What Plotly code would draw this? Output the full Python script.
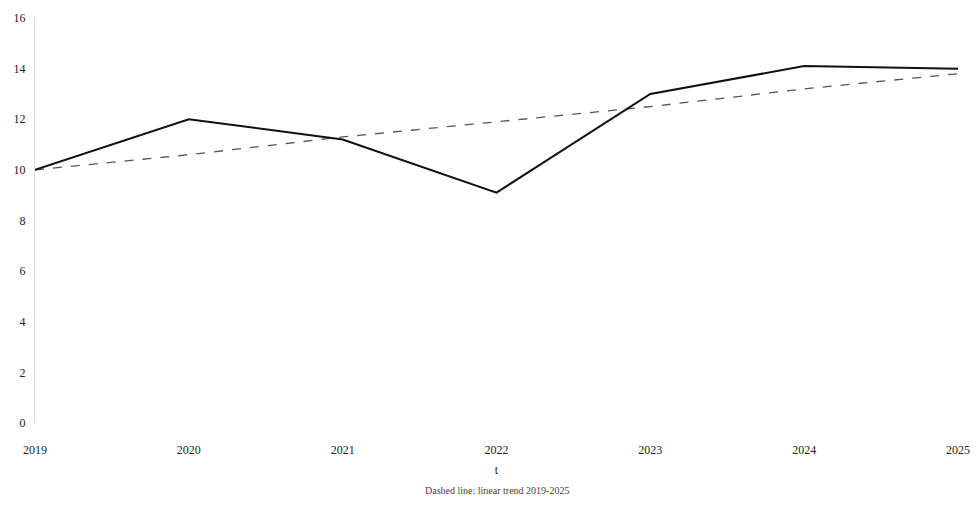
"""Line chart: yearly values with a linear trend line."""

import plotly.graph_objects as go

YEARS = [2019, 2020, 2021, 2022, 2023, 2024, 2025]
VALUES = [10.0, 12.0, 11.2, 9.1, 13.0, 14.1, 14.0]
TREND = [10.0, 10.6, 11.3, 11.9, 12.5, 13.2, 13.8]
Y_TICKS = [0, 2, 4, 6, 8, 10, 12, 14, 16]

FONT = "Liberation Serif"

fig = go.Figure()

fig.add_trace(
    go.Scatter(
        x=YEARS,
        y=TREND,
        mode="lines",
        name="Trend",
        line=dict(color="#555555", width=1.3, dash="dash"),
    )
)
fig.add_trace(
    go.Scatter(
        x=YEARS,
        y=VALUES,
        mode="lines",
        name="Value",
        line=dict(color="#111111", width=2),
    )
)

# page body adds an 8px margin, so the figure is sized to fit inside it
fig.update_layout(
    width=963,
    height=505,
    paper_bgcolor="white",
    plot_bgcolor="white",
    showlegend=False,
    font=dict(family=FONT, size=12, color="#222222"),
    margin=dict(l=27, r=13, t=10, b=90),
    xaxis=dict(
        range=[2019, 2025],
        tickvals=YEARS,
        ticktext=[str(y) for y in YEARS],
        showgrid=False,
        zeroline=False,
        showline=False,
        ticks="",
        ticklabelstandoff=18,
        automargin=False,
        title=dict(text="t", font=dict(size=12), standoff=9),
    ),
    yaxis=dict(
        range=[0, 16],
        tickvals=Y_TICKS,
        showgrid=False,
        zeroline=False,
        showline=True,
        linecolor="#dddddd",
        linewidth=1,
        ticks="",
        ticklabelstandoff=6,
        automargin=False,
    ),
    annotations=[
        dict(
            text="Dashed line: linear trend 2019-2025",
            x=0.5,
            y=-0.185,
            xref="paper",
            yref="paper",
            showarrow=False,
            font=dict(size=10, color="#444444"),
        )
    ],
)

fig.write_html("out.html")
